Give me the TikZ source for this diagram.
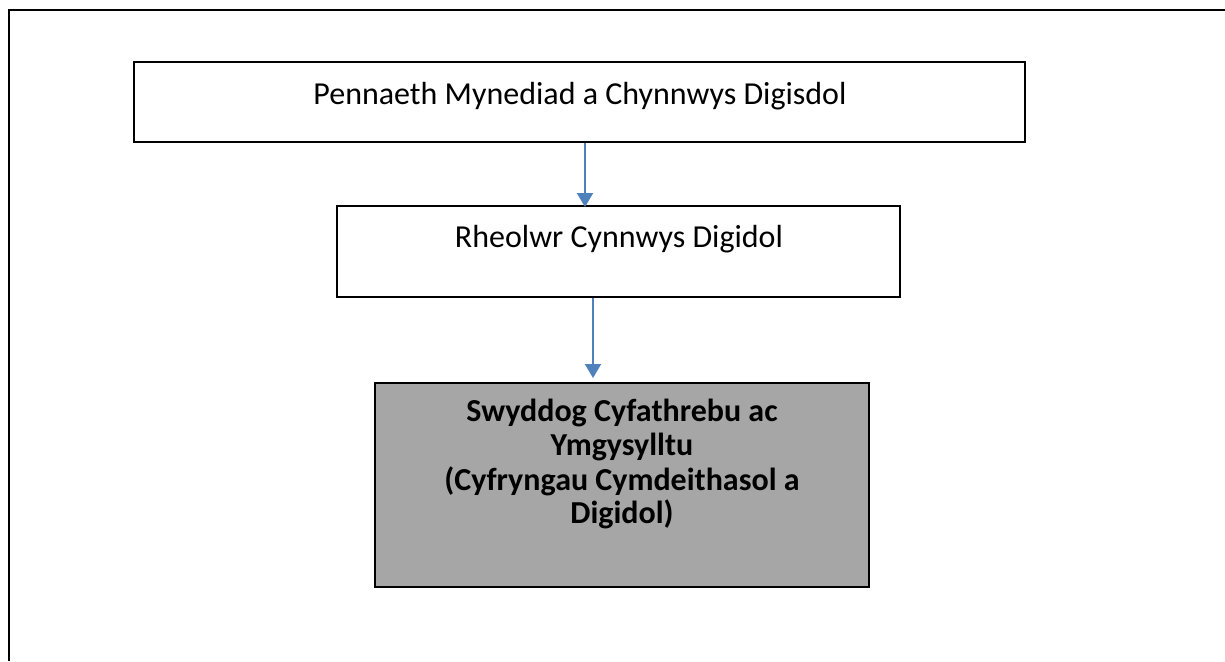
\documentclass[tikz,border=0pt]{standalone}
\usepackage{fontspec}
\setmainfont{Carlito}
\usetikzlibrary{arrows.meta}
\definecolor{arrowblue}{HTML}{4F81BD}
\definecolor{boxgray}{HTML}{A6A6A6}
\tikzset{
  frame/.style={line width=1.6pt, draw=black},
  orgbox/.style={line width=1.5pt, draw=black},
  label/.style={font=\fontsize{24}{25.5}\selectfont, inner sep=0pt, anchor=base},
  boldlabel/.style={label, font=\fontsize{24}{25.5}\selectfont\bfseries},
  conn/.style={draw=arrowblue, line width=1.5pt, -{Triangle[length=10.5pt,width=12pt]}},
}
\begin{document}
\begin{tikzpicture}[x=0.75pt,y=-0.75pt]
\useasboundingbox (0,0) rectangle (1225,661);
\fill[white] (0,0) rectangle (1225,661);
% outer table frame
\coordinate (fl) at (9,661);
\coordinate (fc) at (9,10);
\coordinate (fr) at (1225,10);
\draw[frame] (fl) -- (fc) -- (fr);
% boxes
\draw[orgbox] (134,62) rectangle (1025,142);
\draw[orgbox] (337,206) rectangle (900,297);
\draw[orgbox, fill=boxgray] (375,383) rectangle (869,587);
% texts
\node[label] (t1) at (580,104) {Pennaeth Mynediad a Chynnwys Digisdol};
\node[label] (t2) at (619,247) {Rheolwr Cynnwys Digidol};
\node[boldlabel] (t3a) at (622,421) {Swyddog Cyfathrebu ac};
\node[boldlabel] (t3b) at (622,455) {Ymgysylltu};
\node[boldlabel] (t3c) at (622,490) {(Cyfryngau Cymdeithasol a};
\node[boldlabel] (t3d) at (622,523) {Digidol)};
% connectors
\coordinate (a1s) at (585,143);
\coordinate (a1e) at (585,207);
\coordinate (a2s) at (593,298);
\coordinate (a2e) at (593,378);
\draw[conn] (a1s) -- (a1e);
\draw[conn] (a2s) -- (a2e);
\end{tikzpicture}
\end{document}
